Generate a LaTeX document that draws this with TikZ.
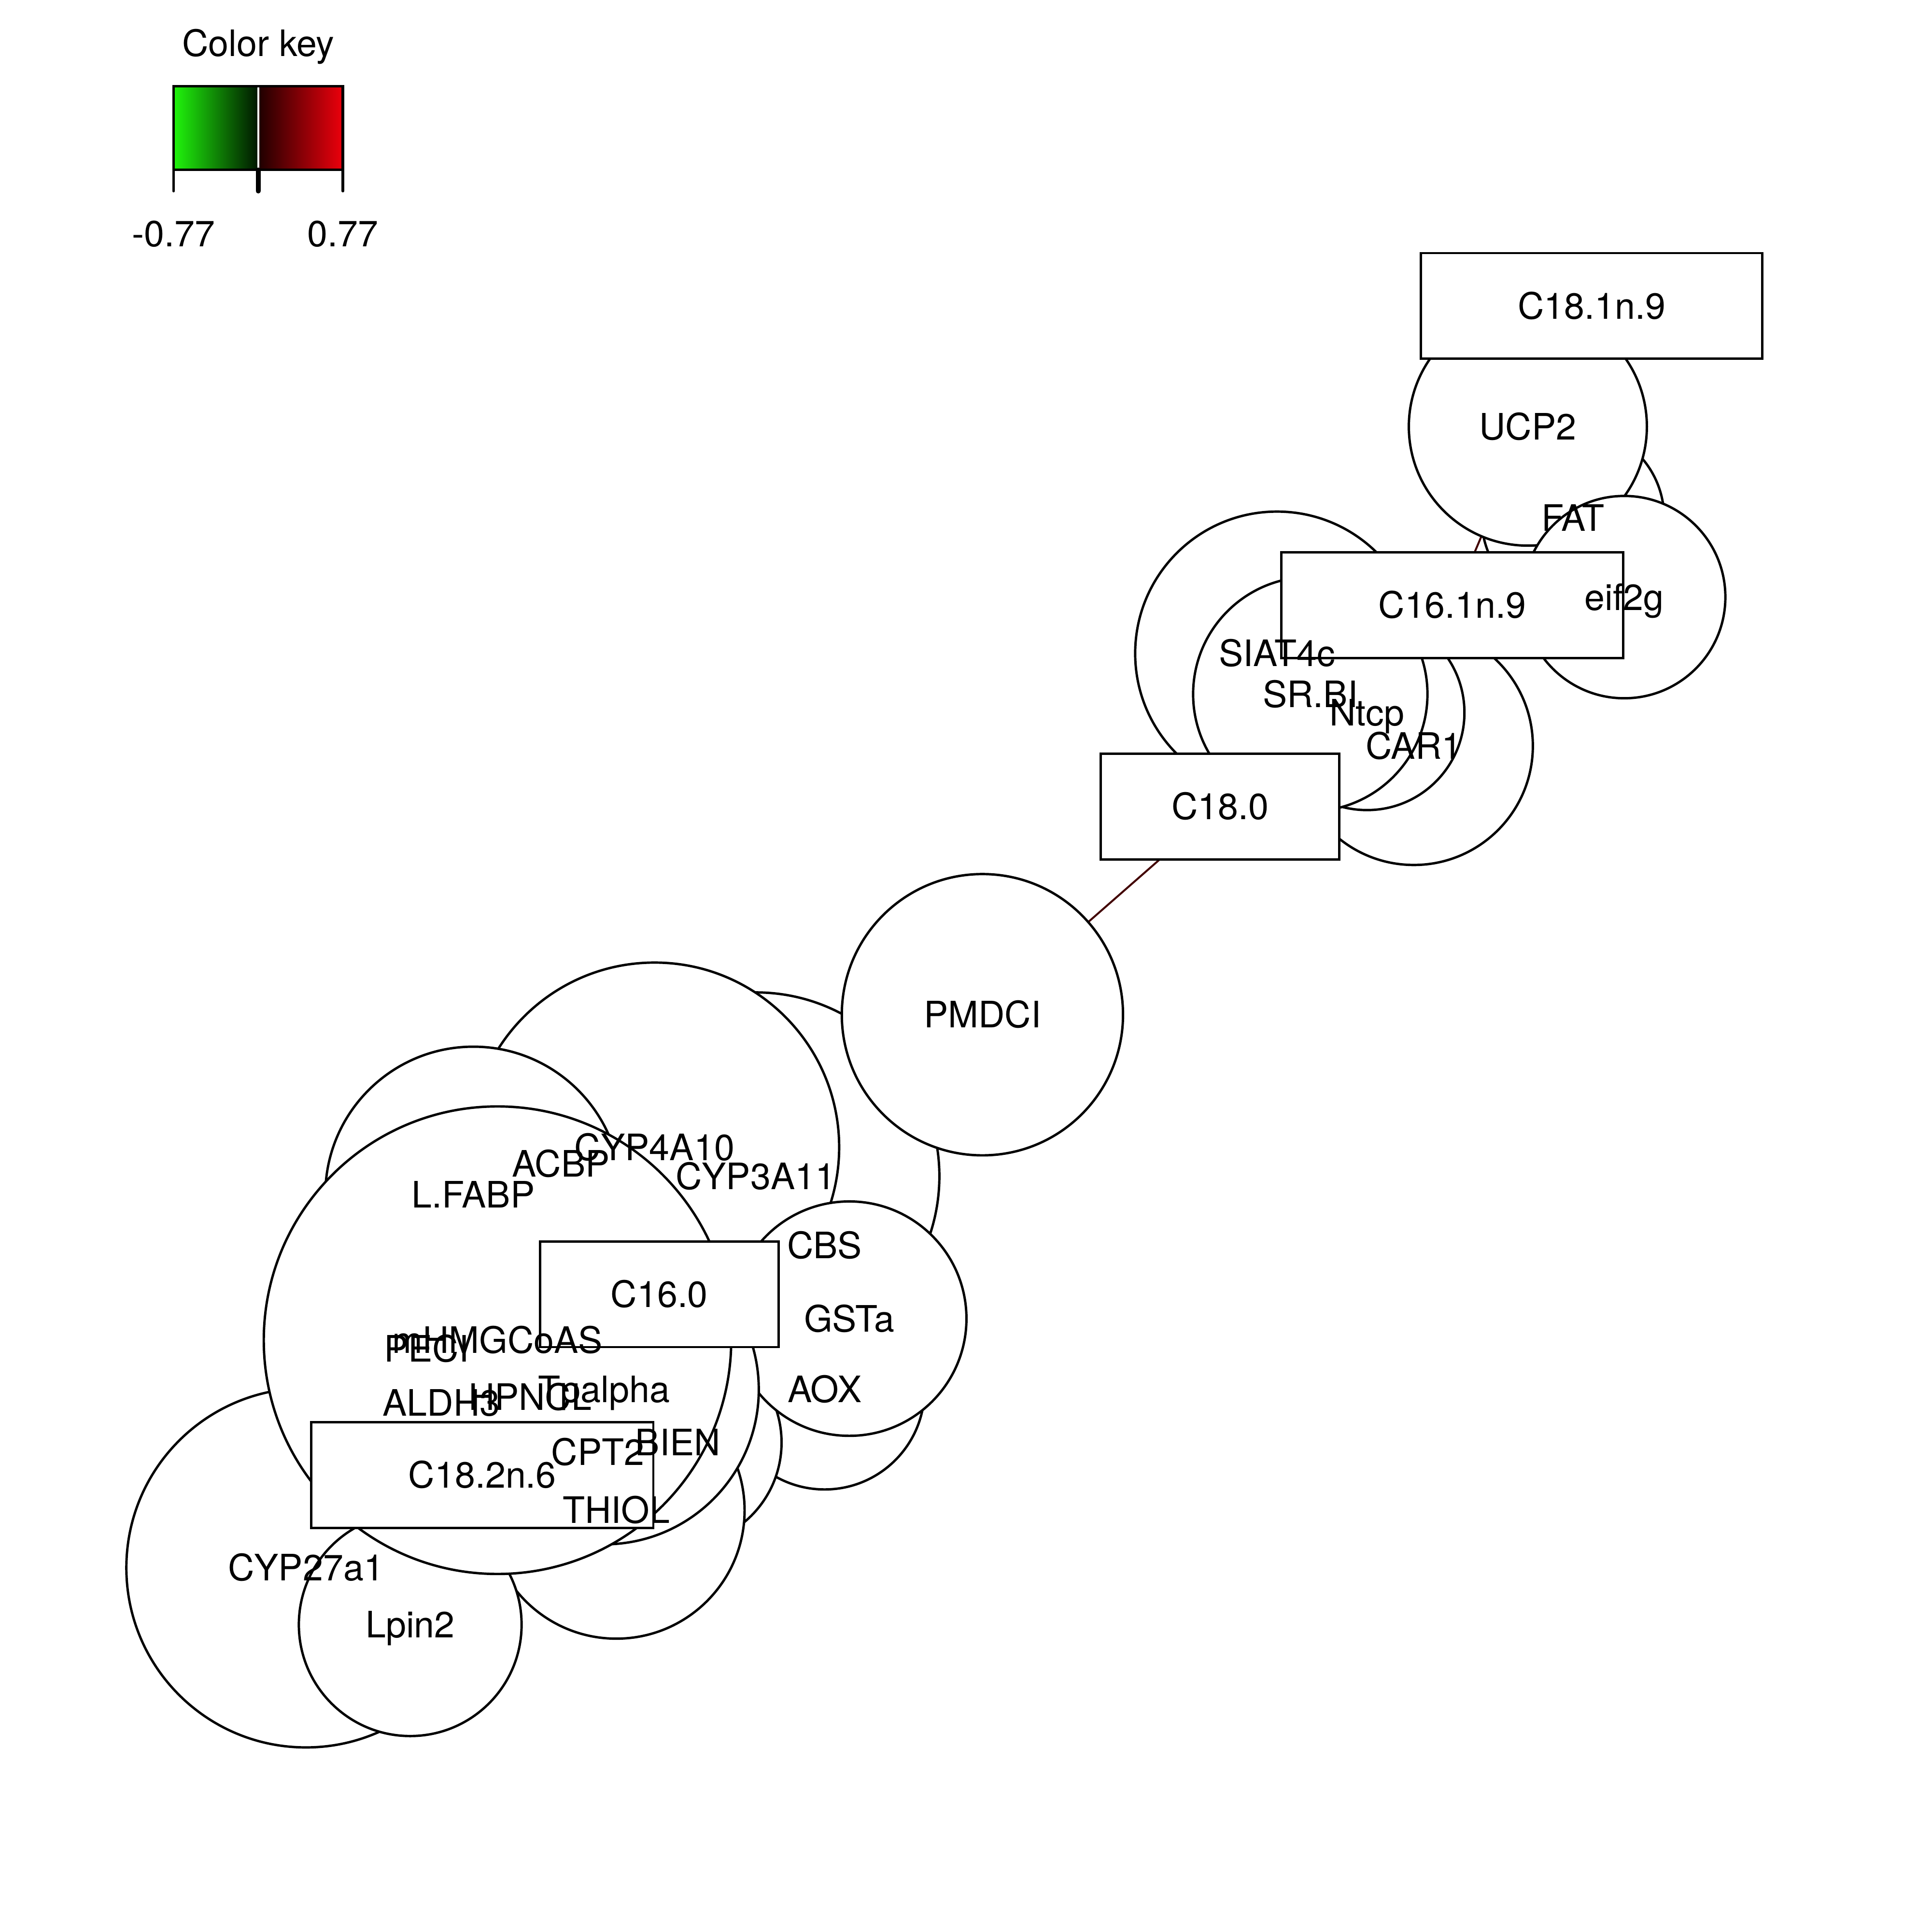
\documentclass[tikz,border=0pt]{standalone}
\usepackage{fontspec}
\setmainfont{TeX Gyre Heros}
\pgfdeclarelayer{edgelayer}
\pgfsetlayers{edgelayer,main}
\definecolor{edgered}{RGB}{66,0,0}
\definecolor{keygreen}{RGB}{32,245,12}
\definecolor{keydkgreen}{RGB}{0,22,0}
\definecolor{keydkred}{RGB}{30,0,0}
\definecolor{keyred}{RGB}{236,0,12}
\begin{document}
\begin{tikzpicture}[x=0.01cm,y=-0.01cm,
  gnode/.style={circle,draw=black,fill=white,line width=0.55pt,inner sep=0pt,outer sep=0pt},
  vbox/.style={rectangle,draw=black,fill=white,line width=0.55pt,inner sep=0pt,outer sep=0pt,minimum height=0.856cm},
  lab/.style={anchor=base,yshift=-3pt,inner sep=0pt,font=\fontsize{8.4}{10}\selectfont},
  txt/.style={anchor=base,inner sep=0pt,font=\fontsize{8.4}{10}\selectfont},
  edge/.style={draw=edgered,line width=0.45pt}]
\useasboundingbox (0,0) rectangle (1567,1567);

% ---------- colour key ----------
\shade[left color=keygreen,right color=keydkgreen] (140.8,70) rectangle (209.5,137.8);
\shade[left color=keydkred,right color=keyred] (209.5,70) rectangle (278.1,137.8);
\draw[white,line width=0.45pt] (209.5,70) -- (209.5,137.8);
\draw[line width=0.6pt] (140.8,70) rectangle (278.1,137.8);
\draw[line width=0.6pt,line cap=round] (140.8,137.8) -- (140.8,155) (278.1,137.8) -- (278.1,155);
\draw[line width=1.1pt,line cap=round] (209.5,137.8) -- (209.5,155);
\node[txt] (keytitle) at (209.5,45.5) {Color key};
\node[txt] (keymin) at (140.8,200) {-0.77};
\node[txt] (keymax) at (278.1,200) {0.77};

% ---------- circles, bottom to top ----------
\node[gnode,minimum size=1.10cm] (CBS) at (669,1010) {};
\node[gnode,minimum size=0.76cm] (ACBP) at (455,944) {};
\node[gnode,minimum size=0.90cm] (PECI) at (346,1094) {};
\node[gnode,minimum size=0.90cm] (HPNCL) at (430,1133) {};
\node[gnode,minimum size=0.90cm] (ALDH3) at (358,1138) {};
\node[gnode,minimum size=0.90cm] (CPT2) at (485,1178) {};
\node[gnode,minimum size=2.98cm] (CYP3A11) at (613,954) {};
\node[gnode,minimum size=2.994cm] (CYP4A10) at (531,930.5) {};
\node[gnode,minimum size=2.40cm] (LFABP) at (384,969) {};
\node[gnode,minimum size=2.28cm] (PMDCI) at (797,823) {};
\node[gnode,minimum size=1.62cm] (AOX) at (669,1127) {};
\node[gnode,minimum size=1.68cm] (BIEN) at (550,1170) {};
\node[gnode,minimum size=2.08cm] (THIOL) at (500,1225) {};
\node[gnode,minimum size=1.90cm] (GSTa) at (689,1069.5) {};
\node[gnode,minimum size=2.51cm] (Tpalpha) at (490,1127) {};
\node[gnode,minimum size=2.912cm] (CYP27a1) at (248.2,1271.6) {};
\node[gnode,minimum size=1.806cm] (Lpin2) at (332.8,1317.7) {};
\node[gnode,minimum size=3.79cm] (mHMGCoAS) at (403.6,1087) {};
\node[gnode,minimum size=1.48cm] (FAT) at (1276,420) {};
\node[gnode,minimum size=1.93cm] (UCP2) at (1239.5,346) {};
\node[gnode,minimum size=1.64cm] (eif2g) at (1317.7,484.3) {};
\node[gnode,minimum size=2.30cm] (SIAT4c) at (1036,530) {};
\node[gnode,minimum size=1.93cm] (CAR1) at (1147,605) {};
\node[gnode,minimum size=1.58cm] (Ntcp) at (1109,578) {};
\node[gnode,minimum size=1.90cm] (SRBI) at (1063,563) {};

% ---------- rectangles ----------
\node[vbox,minimum width=1.933cm] (C160) at (534.85,1049.75) {};
\node[vbox,minimum width=2.773cm] (C182n6) at (391.3,1196.3) {};
\node[vbox,minimum width=1.936cm] (C180) at (989.8,654.2) {};
\node[vbox,minimum width=2.772cm] (C161n9) at (1178.2,490.75) {};
\node[vbox,minimum width=2.770cm] (C181n9) at (1291.2,248.1) {};

% ---------- edges (below the nodes) ----------
\begin{pgfonlayer}{edgelayer}
\draw[edge] (PMDCI.center) -- (C180.center);
\draw[edge] (C161n9.center) -- (UCP2.center);
\end{pgfonlayer}

% ---------- labels ----------
\node[lab] (CBS-l) at (CBS.center) {CBS};
\node[lab] (ACBP-l) at (ACBP.center) {ACBP};
\node[lab] (PECI-l) at (PECI.center) {PECI};
\node[lab] (HPNCL-l) at (HPNCL.center) {HPNCL};
\node[lab] (ALDH3-l) at (ALDH3.center) {ALDH3};
\node[lab] (CPT2-l) at (CPT2.center) {CPT2};
\node[lab] (CYP3A11-l) at (CYP3A11.center) {CYP3A11};
\node[lab] (CYP4A10-l) at (CYP4A10.center) {CYP4A10};
\node[lab] (LFABP-l) at (LFABP.center) {L.FABP};
\node[lab] (PMDCI-l) at (PMDCI.center) {PMDCI};
\node[lab] (AOX-l) at (AOX.center) {AOX};
\node[lab] (BIEN-l) at (BIEN.center) {BIEN};
\node[lab] (THIOL-l) at (THIOL.center) {THIOL};
\node[lab] (GSTa-l) at (GSTa.center) {GSTa};
\node[lab] (Tpalpha-l) at (Tpalpha.center) {Tpalpha};
\node[lab] (CYP27a1-l) at (CYP27a1.center) {CYP27a1};
\node[lab] (Lpin2-l) at (Lpin2.center) {Lpin2};
\node[lab] (mHMGCoAS-l) at (mHMGCoAS.center) {mHMGCoAS};
\node[lab] (FAT-l) at (FAT.center) {FAT};
\node[lab] (UCP2-l) at (UCP2.center) {UCP2};
\node[lab] (eif2g-l) at (eif2g.center) {eif2g};
\node[lab] (SIAT4c-l) at (SIAT4c.center) {SIAT4c};
\node[lab] (CAR1-l) at (CAR1.center) {CAR1};
\node[lab] (Ntcp-l) at (Ntcp.center) {Ntcp};
\node[lab] (SRBI-l) at (SRBI.center) {SR.BI};
\node[lab] (C160-l) at (C160.center) {C16.0};
\node[lab] (C182n6-l) at (C182n6.center) {C18.2n.6};
\node[lab] (C180-l) at (C180.center) {C18.0};
\node[lab] (C161n9-l) at (C161n9.center) {C16.1n.9};
\node[lab] (C181n9-l) at (C181n9.center) {C18.1n.9};
\end{tikzpicture}
\end{document}
